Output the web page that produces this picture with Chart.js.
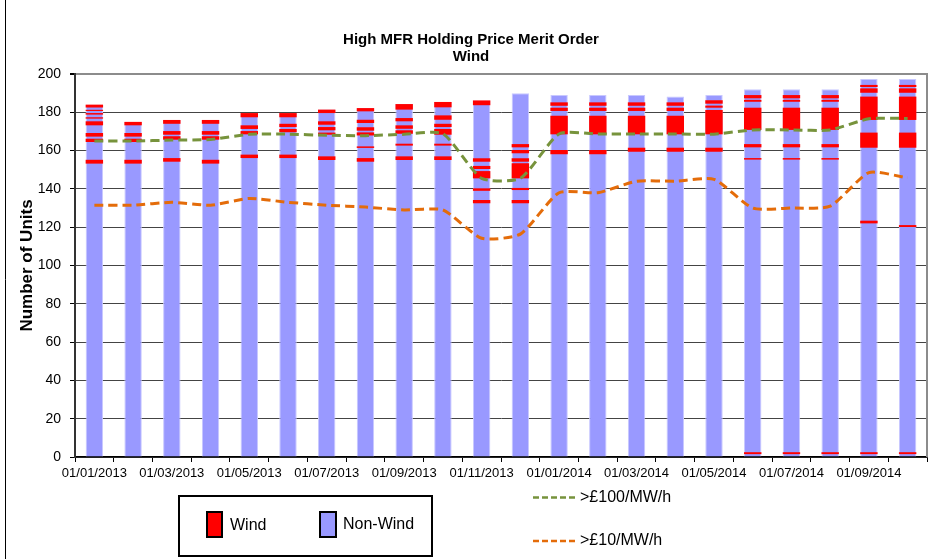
<!DOCTYPE html>
<html>
<head>
<meta charset="utf-8">
<script src="https://cdn.jsdelivr.net/npm/chart.js@4/dist/chart.umd.min.js"></script>
<style>
html,body{margin:0;padding:0;background:#fff;}
#wrap{width:942px;height:559px;position:relative;}
</style>
</head>
<body>
<div id="wrap"><canvas id="meritChart" width="942" height="559"></canvas></div>
<script>
// months (one bar each)
const months = [
"01/01/2013","01/02/2013","01/03/2013","01/04/2013","01/05/2013","01/06/2013",
"01/07/2013","01/08/2013","01/09/2013","01/10/2013","01/11/2013","01/12/2013",
"01/01/2014","01/02/2014","01/03/2014","01/04/2014","01/05/2014","01/06/2014",
"01/07/2014","01/08/2014","01/09/2014","01/10/2014"
];

// total units in the merit order (top of bar)
const totalUnits = [184,175,176,176,179.6,179.6,181.4,182.2,184.3,185.4,186.2,190,
189,189,189,188.2,189,192,192,192,197.4,197.4];

// wind units, as [from, to] bands inside each bar
const windBands = [
[[182.5,184],[180.7,181.3],[178.8,179.6],[176.7,177.4],[173.2,175.3],[167.3,169.2],[164.5,166.2],[153.2,155.2]],
[[173.2,175],[167.3,169.2],[164.5,166.2],[153.2,155.2]],
[[174,176],[168.3,170.2],[165.7,167.5],[154.2,156.1]],
[[174,176],[168.3,170.2],[165.7,167.5],[153.2,155.2]],
[[177.4,179.6],[171.3,173.2],[168.5,170.2],[156.1,157.9]],
[[177.4,179.6],[172.3,174],[169.6,171.3],[156.1,157.9]],
[[179.6,181.4],[173.5,175.3],[170.6,172.3],[168.3,169.4],[155.1,157]],
[[180.5,182.2],[174.4,176.1],[170.4,172.2],[167.9,169.5],[161.4,162.2],[154.2,156.1]],
[[181.4,184.3],[175.3,177],[171.4,173.2],[168.8,170.6],[162.6,163.6],[155.1,157]],
[[182.6,185.4],[176.1,178.4],[172.3,174],[168.3,171.3],[162.6,163.6],[155.1,157]],
[[183.7,186.2],[154.2,156],[150.4,152],[145.5,149.3],[139,140.3],[132.5,134.2]],
[[161.7,163.4],[158.6,160.3],[154.2,156],[145.5,153.4],[139.4,140.5],[132.5,134.2]],
[[183.4,185.2],[180.7,182.4],[168.5,178.2],[158.1,160.3]],
[[183.4,185.2],[180.7,182.4],[168.5,178.2],[158.1,160.3]],
[[183.4,185.2],[180.7,182.4],[168.5,178.2],[159.4,161.5]],
[[183.4,185.2],[180.7,182.4],[168.5,178.2],[159.4,161.5]],
[[184.5,186.3],[182.4,183.5],[168.5,181.2],[159.4,161.5]],
[[187.3,189],[185.5,186.5],[170.8,182.4],[161.7,163.4],[155.3,156.1],[1.5,2.5]],
[[187.3,189],[185.5,186.5],[170.8,182.4],[161.7,163.4],[155.3,156.1],[1.5,2.5]],
[[187.3,189],[185.5,186.5],[170.8,182.4],[161.7,163.4],[155.3,156.1],[1.5,2.5]],
[[193.2,194.3],[190.2,192.5],[176,188.2],[161.5,169.4],[122,123.4],[1.5,2.5]],
[[193.2,194.3],[190.2,192.5],[176,188.2],[161.5,169.4],[120.1,121.1],[1.5,2.5]]
];

// units above price thresholds
const over100 = [165,165,165.5,165.8,168.5,168.6,168,167.8,168.5,168.8,145.5,145.5,
168.7,168.7,168.7,168.7,168.6,170.8,170.8,170.8,176.6,176.8];
const over10 = [131.5,131.5,133,131.5,135,133,131.5,130.5,129,129,114.2,116.4,
138,138,144,144,145,130,130,131,148.5,145.8];

const yTicks = [0,20,40,60,80,100,120,140,160,180,200];

const FONT = "'Liberation Sans', Arial, sans-serif";

const bandCount = Math.max(...windBands.map(b => b.length));
const windSets = [];
for (let k = 0; k < bandCount; k++) {
  windSets.push({
    type: "bar",
    label: "Wind",
    data: windBands.map(b => b[k] ? b[k] : null),
    backgroundColor: "#ff0000",
    borderWidth: 0,
    grouped: false,
    barPercentage: 0.45,
    categoryPercentage: 1,
    order: 1
  });
}

// title, legend box and frame lines
const decor = {
  id: "decor",
  afterDraw(chart) {
    const c = chart.ctx;
    const a = chart.chartArea;
    c.save();
    // right border of plot
    c.strokeStyle = "#8c8c8c";
    c.lineWidth = 2;
    c.beginPath(); c.moveTo(a.right, a.top - 1); c.lineTo(a.right, a.bottom); c.stroke();

    c.fillStyle = "#000";
    c.textAlign = "center";
    c.textBaseline = "middle";
    c.font = "bold 15px " + FONT;
    c.fillText("High MFR Holding Price Merit Order", 471, 40);
    c.fillText("Wind", 471, 57);

    // left frame line
    c.strokeStyle = "#000";
    c.lineWidth = 1;
    c.beginPath(); c.moveTo(5.5, 0); c.lineTo(5.5, 559); c.stroke();

    // legend box
    c.lineWidth = 2;
    c.strokeRect(179, 496, 253, 60);
    c.fillStyle = "#ff0000";
    c.fillRect(207, 512, 15, 25);
    c.strokeRect(207, 512, 15, 25);
    c.fillStyle = "#9999ff";
    c.fillRect(320, 512, 16, 25);
    c.strokeRect(320, 512, 16, 25);
    c.fillStyle = "#000";
    c.textAlign = "left";
    c.font = "16px " + FONT;
    c.fillText("Wind", 230, 526);
    c.fillText("Non-Wind", 343, 525);

    // line legend
    c.lineWidth = 2.5;
    c.setLineDash([6, 3]);
    c.strokeStyle = "#77933c";
    c.beginPath(); c.moveTo(533, 497.5); c.lineTo(578, 497.5); c.stroke();
    c.strokeStyle = "#e46c0a";
    c.beginPath(); c.moveTo(533, 541); c.lineTo(578, 541); c.stroke();
    c.setLineDash([]);
    c.font = "16px " + FONT;
    c.fillText(">£100/MW/h", 580, 498);
    c.fillText(">£10/MW/h", 580, 541);
    c.restore();
  }
};

const ctx = document.getElementById("meritChart").getContext("2d");

new Chart(ctx, {
  data: {
    labels: months,
    datasets: [
      {
        type: "line", label: ">£100/MW/h", data: over100,
        borderColor: "#77933c", borderWidth: 3, borderDash: [9, 5],
        pointRadius: 0, tension: 0.2, fill: false, order: 0
      },
      {
        type: "line", label: ">£10/MW/h", data: over10,
        borderColor: "#e46c0a", borderWidth: 3, borderDash: [9, 5],
        pointRadius: 0, tension: 0.2, fill: false, order: 0
      },
      ...windSets,
      {
        type: "bar", label: "Non-Wind", data: totalUnits,
        backgroundColor: "#9999ff", borderColor: "#c8c8ff", borderWidth: 1,
        grouped: false, barPercentage: 0.45, categoryPercentage: 1, order: 2
      }
    ]
  },
  options: {
    responsive: false,
    animation: false,
    layout: { padding: { top: 74, right: 15, left: 0, bottom: 0 } },
    plugins: { legend: { display: false }, tooltip: { enabled: false } },
    scales: {
      x: {
        offset: true,
        grid: { offset: true, drawOnChartArea: false, drawTicks: true, tickLength: 5, tickColor: "#000" },
        border: { color: "#000", width: 1.5 },
        ticks: {
          autoSkip: false, maxRotation: 0, padding: 4, color: "#000",
          font: { family: FONT, size: 13 },
          callback: (v, i) => i % 2 === 0 ? months[i] : ""
        },
        afterFit: s => { s.height = 102; }
      },
      y: {
        min: 0, max: 200,
        afterBuildTicks: s => { s.ticks = yTicks.map(v => ({ value: v })); },
        grid: {
          color: c => c.tick && c.tick.value === 200 ? "#8c8c8c" : "#444",
          lineWidth: c => c.tick && c.tick.value === 200 ? 2 : 1,
          tickLength: 5, tickColor: "#000"
        },
        border: { color: "#333", width: 2 },
        ticks: { color: "#000", padding: 9, font: { family: FONT, size: 14 } },
        title: {
          display: true, text: "Number of Units", color: "#000",
          font: { family: FONT, size: 17, weight: "bold" }, padding: { top: 17, bottom: 0 }
        },
        afterFit: s => { s.width = 75; }
      }
    }
  },
  plugins: [decor]
});
</script>
</body>
</html>
